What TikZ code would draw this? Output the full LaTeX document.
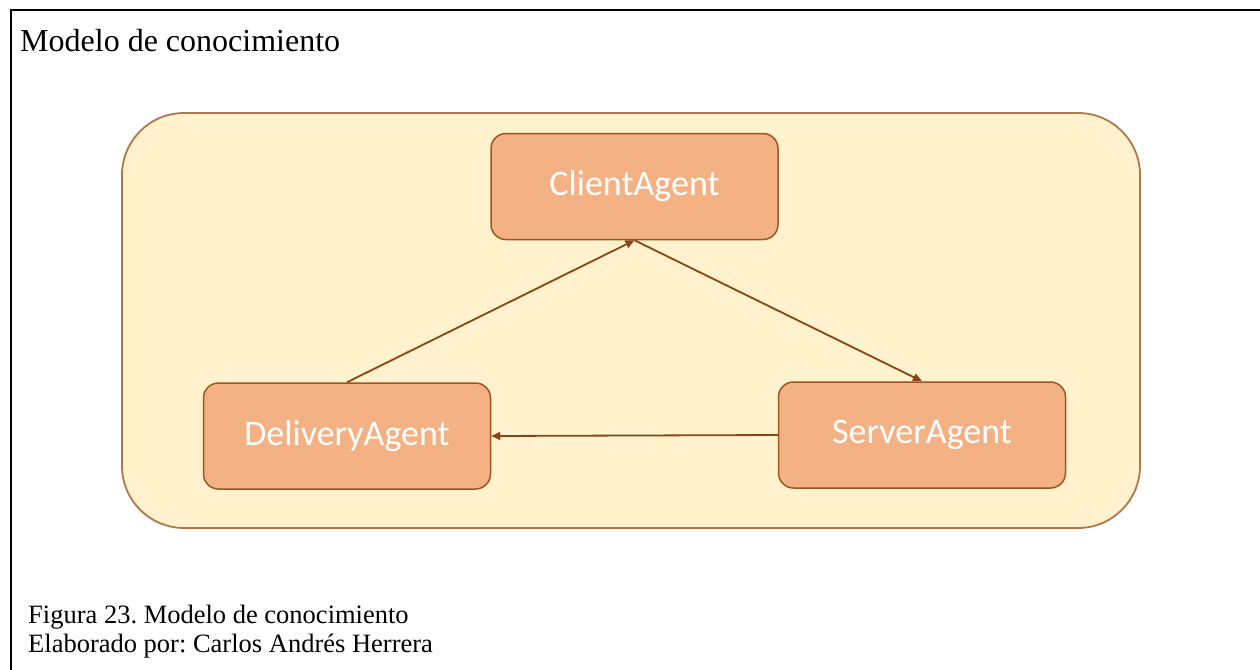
\documentclass[tikz,border=0pt]{standalone}
\usepackage{fontspec}
\setmainfont{Liberation Serif}
\newfontfamily\boxfont{Carlito}
\usetikzlibrary{arrows.meta}
\definecolor{panelfill}{HTML}{FFF2CC}
\definecolor{panelline}{HTML}{B0774A}
\definecolor{agentfill}{HTML}{F4B183}
\definecolor{agentline}{HTML}{9A5626}
\definecolor{linkcol}{HTML}{8A4416}
\frenchspacing
\tikzset{
  agent/.style={draw=agentline, line width=1.5pt, fill=agentfill, rounded corners=15pt,
    minimum width=287pt, minimum height=106pt, inner sep=0pt,
    font=\boxfont\fontsize{36}{40}\selectfont, text=white},
  link/.style={draw=linkcol, line width=1.8pt, -{Triangle[length=9pt,width=8pt]}},
  plain/.style={anchor=base west, inner sep=0pt, font=\fontsize{#1}{#1}\selectfont}
}
\begin{document}
\begin{tikzpicture}[x=1pt,y=-1pt]
\useasboundingbox (0,0) rectangle (1260,669);
\fill[white] (0,0) rectangle (1260,669);
% frame
\draw[line width=2.4pt, line cap=rect] (11,669) -- (11,10) -- (1260,10);
\node[plain=32] (title) at (20,52) {Modelo de conocimiento};
% panel
\draw[draw=panelline, line width=1.8pt, fill=panelfill, rounded corners=62pt] (122,113) rectangle (1140,528);
% agents
\node[agent] (client) at (634.5,186.5) {ClientAgent};
\node[agent] (delivery) at (347,436) {DeliveryAgent};
\node[agent] (server) at (922,435) {ServerAgent};
% links
\draw[link] (delivery.north) -- (client.south);
\draw[link] (client.south) -- (server.north);
\draw[link] (server.west) -- (delivery.east);
% caption
\node[plain=26.5] (cap1) at (28,623) {Figura 23. Modelo de conocimiento};
\node[plain=26.5] (cap2) at (28,652) {Elaborado por: Carlos Andrés Herrera};
\end{tikzpicture}
\end{document}
